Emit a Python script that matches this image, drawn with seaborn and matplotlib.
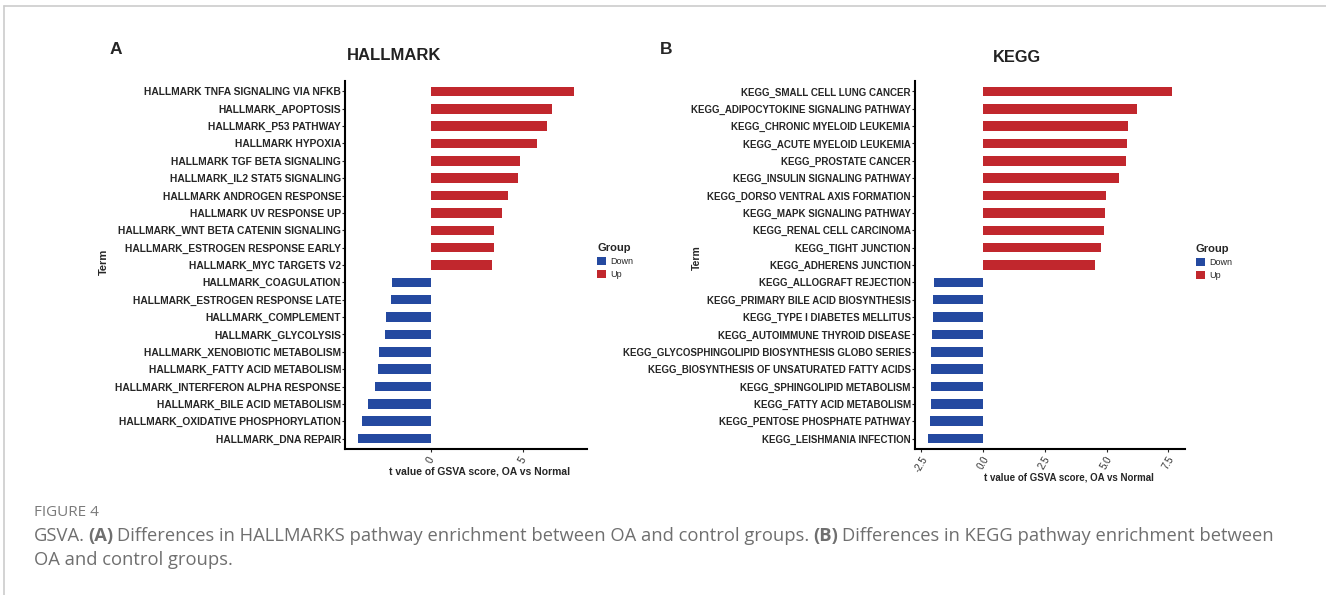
import matplotlib
matplotlib.use("Agg")
import matplotlib.pyplot as plt
from matplotlib.lines import Line2D
import seaborn as sns
import pandas as pd
import numpy as np

hallmark_terms = [
    "HALLMARK TNFA SIGNALING VIA NFKB", "HALLMARK_APOPTOSIS", "HALLMARK_P53 PATHWAY",
    "HALLMARK HYPOXIA", "HALLMARK TGF BETA SIGNALING", "HALLMARK_IL2 STAT5 SIGNALING",
    "HALLMARK ANDROGEN RESPONSE", "HALLMARK UV RESPONSE UP",
    "HALLMARK_WNT BETA CATENIN SIGNALING", "HALLMARK_ESTROGEN RESPONSE EARLY",
    "HALLMARK_MYC TARGETS V2", "HALLMARK_COAGULATION", "HALLMARK_ESTROGEN RESPONSE LATE",
    "HALLMARK_COMPLEMENT", "HALLMARK_GLYCOLYSIS", "HALLMARK_XENOBIOTIC METABOLISM",
    "HALLMARK_FATTY ACID METABOLISM", "HALLMARK_INTERFERON ALPHA RESPONSE",
    "HALLMARK_BILE ACID METABOLISM", "HALLMARK_OXIDATIVE PHOSPHORYLATION",
    "HALLMARK_DNA REPAIR",
]
hallmark_t = [7.80, 6.58, 6.34, 5.79, 4.84, 4.73, 4.20, 3.88, 3.46, 3.44, 3.33,
              -2.10, -2.17, -2.45, -2.48, -2.83, -2.88, -3.03, -3.41, -3.73, -3.97]

kegg_terms = [
    "KEGG_SMALL CELL LUNG CANCER", "KEGG_ADIPOCYTOKINE SIGNALING PATHWAY",
    "KEGG_CHRONIC MYELOID LEUKEMIA", "KEGG_ACUTE MYELOID LEUKEMIA", "KEGG_PROSTATE CANCER",
    "KEGG_INSULIN SIGNALING PATHWAY", "KEGG_DORSO VENTRAL AXIS FORMATION",
    "KEGG_MAPK SIGNALING PATHWAY", "KEGG_RENAL CELL CARCINOMA", "KEGG_TIGHT JUNCTION",
    "KEGG_ADHERENS JUNCTION", "KEGG_ALLOGRAFT REJECTION",
    "KEGG_PRIMARY BILE ACID BIOSYNTHESIS", "KEGG_TYPE I DIABETES MELLITUS",
    "KEGG_AUTOIMMUNE THYROID DISEASE", "KEGG_GLYCOSPHINGOLIPID BIOSYNTHESIS GLOBO SERIES",
    "KEGG_BIOSYNTHESIS OF UNSATURATED FATTY ACIDS", "KEGG_SPHINGOLIPID METABOLISM",
    "KEGG_FATTY ACID METABOLISM", "KEGG_PENTOSE PHOSPHATE PATHWAY",
    "KEGG_LEISHMANIA INFECTION",
]
kegg_t = [7.64, 6.24, 5.87, 5.82, 5.78, 5.50, 4.98, 4.94, 4.88, 4.77, 4.55,
          -2.00, -2.02, -2.04, -2.06, -2.10, -2.11, -2.11, -2.12, -2.15, -2.22]

hallmark_ticks = [0, 5]
hallmark_ticklabels = ["0", "5"]
kegg_ticks = [-2.5, 0, 2.5, 5, 7.5]
kegg_ticklabels = ["-2.5", "0.0", "2.5", "5.0", "7.5"]

RED = "#C1272D"
BLUE = "#2449A0"
CAP = "#6f6f6f"

sns.set_theme(style="white")
plt.rcParams['font.family'] = ['Liberation Sans', 'DejaVu Sans']

W, H = 1326, 595
fig = plt.figure(figsize=(W / 100, H / 100), dpi=100)


def px_axes(x0, y0, x1, y1):
    return fig.add_axes([x0 / W, 1 - y1 / H, (x1 - x0) / W, (y1 - y0) / H])


def ftext(x, y, s, **kw):
    return fig.text(x / W, 1 - y / H, s, **kw)


def panel(ax, terms, vals, fs, xlim, ticks, ticklabels, leg_xy):
    df = pd.DataFrame({'Term': terms, 't': vals})
    df['Group'] = np.where(df['t'] > 0, 'Up', 'Down')
    sns.barplot(data=df, x='t', y='Term', hue='Group', hue_order=['Down', 'Up'],
                palette={'Down': BLUE, 'Up': RED}, orient='h', width=0.55,
                dodge=False, saturation=1, linewidth=0, ax=ax)
    ax.set_xlim(*xlim)
    ax.set_ylim(len(terms) - 1 + 0.6, -0.6)
    for s in ['top', 'right']:
        ax.spines[s].set_visible(False)
    for s in ['left', 'bottom']:
        ax.spines[s].set_linewidth(1.5)
        ax.spines[s].set_color('black')
    ax.tick_params(axis='y', length=2, width=0.8, pad=1, labelsize=fs, left=True)
    ax.tick_params(axis='x', length=2, width=0.8, pad=2, bottom=True)
    for lbl in ax.get_yticklabels():
        lbl.set_fontweight('bold')
    ax.set_xticks(ticks)
    ax.set_xticklabels(ticklabels, rotation=60, ha='center', fontsize=fs,
                       color='#333333')
    ax.set_xlabel('')
    ax.set_ylabel('')
    h, l = ax.get_legend_handles_labels()
    ax.legend(h, l, title='Group', loc='upper left',
              bbox_to_anchor=(leg_xy[0] / W, 1 - leg_xy[1] / H),
              bbox_transform=fig.transFigure, frameon=False, borderpad=0,
              borderaxespad=0, handlelength=1.0, handleheight=1.0,
              handletextpad=0.5, labelspacing=0.45, fontsize=6.5,
              title_fontproperties={'weight': 'bold', 'size': 8}, alignment='left')


# panel A
axA = px_axes(345.3, 81, 586.7, 449)
panel(axA, hallmark_terms, hallmark_t, 7.4, (-4.64, 8.48),
      hallmark_ticks, hallmark_ticklabels, (597, 243))
ftext(480, 472, "t value of GSVA score, OA vs Normal", fontsize=7.5,
      fontweight='bold', ha='center', va='center')
ftext(104, 262, "Term", fontsize=8, fontweight='bold', rotation=90,
      ha='center', va='center')
ftext(394.5, 56, "HALLMARK", fontsize=12, fontweight='bold', ha='center',
      va='center', color='#222222')
ftext(116, 49, "A", fontsize=12.5, fontweight='bold', ha='center', va='center')

# panel B
axB = px_axes(915, 81, 1185.4, 449)
panel(axB, kegg_terms, kegg_t, 7.0, (-2.75, 8.19),
      kegg_ticks, kegg_ticklabels, (1196, 244))
ftext(1069, 478, "t value of GSVA score, OA vs Normal", fontsize=7.0,
      fontweight='bold', ha='center', va='center')
ftext(697, 258, "Term", fontsize=7.5, fontweight='bold', rotation=90,
      ha='center', va='center')
ftext(1016.6, 57, "KEGG", fontsize=11.8, fontweight='bold', ha='center',
      va='center', color='#222222')
ftext(666, 50, "B", fontsize=12.5, fontweight='bold', ha='center', va='center')

# page frame
fig.add_artist(Line2D([4 / W, 1], [1 - 6 / H, 1 - 6 / H], color='#cccccc', lw=1.2))
fig.add_artist(Line2D([4 / W, 4 / W], [0, 1 - 6 / H], color='#cccccc', lw=1.2))

# caption
renderer = fig.canvas.get_renderer()
CAP_FS = 13.2
space_px = CAP_FS * 100 / 72 * 0.2


def rich_line(x, y, parts):
    for txt, weight in parts:
        t = ftext(x, y, txt, fontsize=CAP_FS, fontweight=weight, color=CAP,
                  family='Open Sans', ha='left', va='center')
        x += t.get_window_extent(renderer).width + space_px


ftext(34, 512, "FIGURE 4", fontsize=11, color='#7a7a7a', family='Open Sans',
      ha='left', va='center')
rich_line(34, 536, [("GSVA.", 'normal'), ("(A)", 'bold'),
                    ("Differences in HALLMARKS pathway enrichment between OA and control groups.", 'normal'),
                    ("(B)", 'bold'),
                    ("Differences in KEGG pathway enrichment between", 'normal')])
rich_line(34, 560, [("OA and control groups.", 'normal')])

fig.savefig("out.png", dpi=100)
